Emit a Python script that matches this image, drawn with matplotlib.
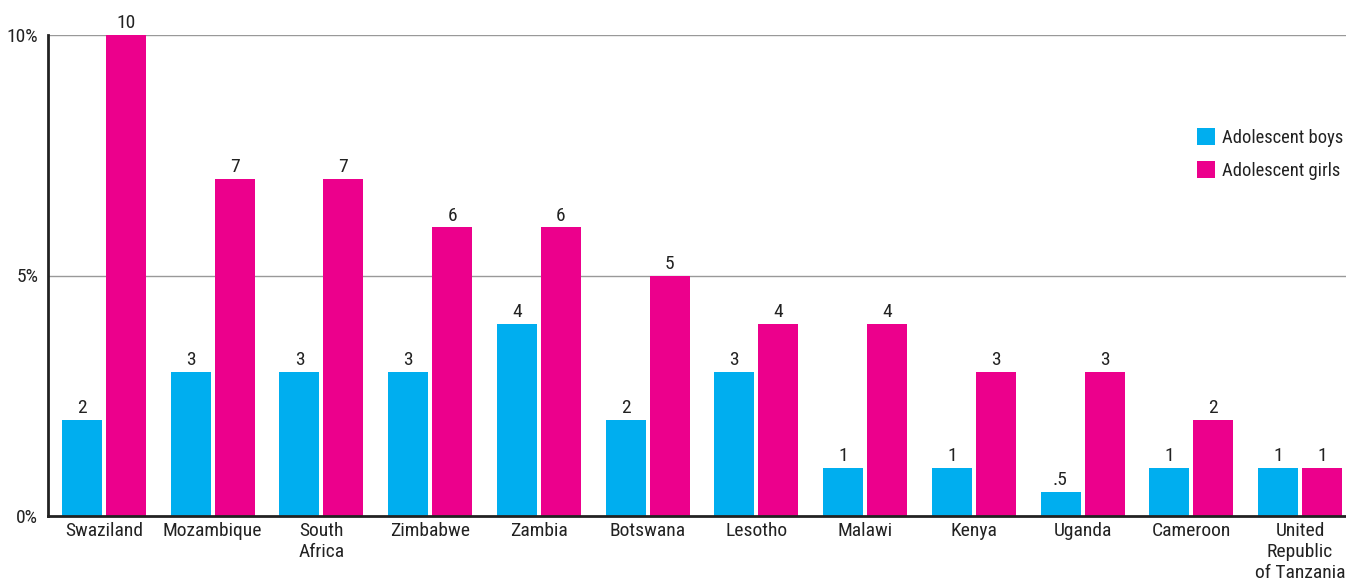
import matplotlib
matplotlib.use("Agg")
import matplotlib.pyplot as plt
import numpy as np
from matplotlib import font_manager

countries = ["Swaziland", "Mozambique", "South\nAfrica", "Zimbabwe", "Zambia", "Botswana",
             "Lesotho", "Malawi", "Kenya", "Uganda", "Cameroon", "United\nRepublic\nof Tanzania"]
boys = [2, 3, 3, 3, 4, 2, 3, 1, 1, 0.5, 1, 1]
girls = [10, 7, 7, 6, 6, 5, 4, 4, 3, 3, 2, 1]
boys_labels = ["2", "3", "3", "3", "4", "2", "3", "1", "1", ".5", "1", "1"]
girls_labels = ["10", "7", "7", "6", "6", "5", "4", "4", "3", "3", "2", "1"]
yticks = [0, 5, 10]
ytick_labels = ["0%", "5%", "10%"]

names = {f.name for f in font_manager.fontManager.ttflist}
cands = ["Liberation Sans Narrow", "Roboto Condensed", "Open Sans Condensed", "DejaVu Sans"]
fam = next(c for c in cands if c in names)
plt.rcParams["font.family"] = [fam, "DejaVu Sans"]
plt.rcParams["font.stretch"] = "condensed"

C_BOY = "#00AEEF"
C_GIRL = "#EC008C"
TXT = "#222222"
FS = 14

fig = plt.figure(figsize=(13.46, 5.82), dpi=100)
ax = fig.add_axes([48/1346, 1-516/582, 1-48/1346, (516-35)/582])

x = np.arange(len(countries))
w = 0.368
off = 0.2024
b1 = ax.bar(x - off, boys, w, color=C_BOY, label="Adolescent boys", zorder=3)
b2 = ax.bar(x + off, girls, w, color=C_GIRL, label="Adolescent girls", zorder=3)
for r, t in zip(b1, boys_labels):
    ax.text(r.get_x()+r.get_width()/2, r.get_height()+0.06, t, ha="center", va="bottom",
            fontsize=FS, color=TXT)
for r, t in zip(b2, girls_labels):
    ax.text(r.get_x()+r.get_width()/2, r.get_height()+0.06, t, ha="center", va="bottom",
            fontsize=FS, color=TXT)

ax.set_xlim(-0.515, 11.423)
ax.set_ylim(0, 10)
ax.set_yticks(yticks)
ax.set_yticklabels(ytick_labels, fontsize=FS, color=TXT)
ax.set_xticks(x)
ax.set_xticklabels(countries, fontsize=FS, color=TXT, linespacing=1.22)
ax.tick_params(axis="both", length=0, pad=4)
ax.tick_params(axis="y", pad=7)
for y in [5, 10]:
    ax.axhline(y, color="#999999", lw=1, zorder=1)
for s in ["top", "right"]:
    ax.spines[s].set_visible(False)
for s in ["left", "bottom"]:
    ax.spines[s].set_color("#222222")
    ax.spines[s].set_linewidth(2)
ax.spines["left"].set_zorder(4)
ax.spines["bottom"].set_zorder(4)

leg = ax.legend(loc="upper left", bbox_to_anchor=((1197-48)/1298, 1.0 - (128-35)/481),
                bbox_transform=ax.transAxes, frameon=False, fontsize=13.3, handlelength=0.95,
                handleheight=1.0, handletextpad=0.4, labelspacing=0.78, borderaxespad=0,
                borderpad=0)
for t in leg.get_texts():
    t.set_color(TXT)

fig.savefig("out.png", dpi=100)
